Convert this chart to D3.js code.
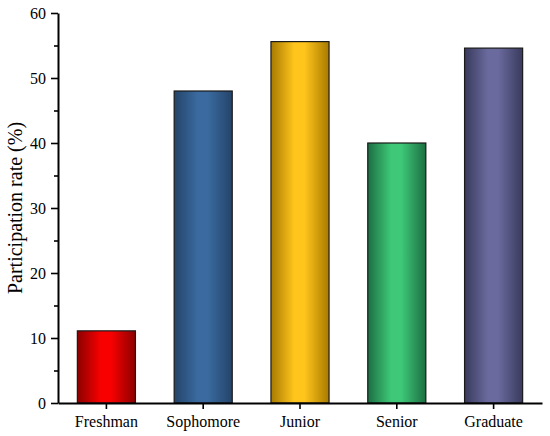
<!DOCTYPE html>
<html>
<head>
<meta charset="utf-8">
<script src="https://cdn.jsdelivr.net/npm/d3@7"></script>
<style>
  body { margin: 0; background: #fff; }
  text { font-family: "Liberation Serif", "Times New Roman", serif; fill: #000; }
</style>
</head>
<body>
<script>
'use strict';

var categories = ['Freshman', 'Sophomore', 'Junior', 'Senior', 'Graduate'];
var rates = [11.1, 48.0, 55.6, 40.0, 54.6];
var yTicks = [0, 10, 20, 30, 40, 50, 60];
var yMinorTicks = [5, 15, 25, 35, 45, 55];
// [edge, middle] colours of each bar's horizontal shading
var barColors = [
    ['#8c0000', '#f80000'],
    ['#244469', '#3a6a9f'],
    ['#a87a00', '#ffc51c'],
    ['#1c6e42', '#3ec878'],
    ['#393a5c', '#6a6a9e']
];

var width = 550;
var height = 436;
var margin = {left: 58, right: 8, top: 13, bottom: 33};

var svg = d3.select('body')
    .append('svg')
    .attr('width', width)
    .attr('height', height);

var x = d3.scaleBand()
    .domain(categories)
    .range([margin.left, width - margin.right])
    .paddingInner(0.4)
    .paddingOuter(0.2);

var y = d3.scaleLinear()
    .domain([0, 60])
    .range([height - margin.bottom, margin.top]);

var defs = svg.append('defs');
barColors.forEach(function(c, i) {
    var grad = defs.append('linearGradient')
        .attr('id', 'grad' + i)
        .attr('x1', '0%').attr('x2', '100%')
        .attr('y1', '0%').attr('y2', '0%');
    grad.append('stop').attr('offset', '0%').attr('stop-color', c[0]);
    grad.append('stop').attr('offset', '40%').attr('stop-color', c[1]);
    grad.append('stop').attr('offset', '58%').attr('stop-color', c[1]);
    grad.append('stop').attr('offset', '100%').attr('stop-color', c[0]);
});

svg.selectAll('rect.bar')
    .data(rates)
    .enter()
    .append('rect')
    .attr('class', 'bar')
    .attr('x', function(d, i) { return x(categories[i]); })
    .attr('y', function(d) { return y(d); })
    .attr('width', x.bandwidth())
    .attr('height', function(d) { return y(0) - y(d); })
    .attr('fill', function(d, i) { return 'url(#grad' + i + ')'; })
    .attr('stroke', '#1a1a1a')
    .attr('stroke-width', 1.2);

// y axis
svg.append('g')
    .attr('transform', 'translate(' + margin.left + ',0)')
    .call(d3.axisLeft(y).tickValues(yTicks).tickSize(7).tickPadding(5).tickSizeOuter(0));

svg.append('g')
    .attr('transform', 'translate(' + margin.left + ',0)')
    .call(d3.axisLeft(y).tickValues(yMinorTicks).tickSize(4).tickFormat('').tickSizeOuter(0))
    .select('.domain').remove();

// x axis
svg.append('g')
    .attr('transform', 'translate(0,' + y(0) + ')')
    .call(d3.axisBottom(x).tickSize(6).tickPadding(7).tickSizeOuter(0));

svg.selectAll('.domain').attr('stroke', '#000').attr('stroke-width', 2);
svg.selectAll('.tick line').attr('stroke', '#000').attr('stroke-width', 1.6);
svg.selectAll('.tick text')
    .style('font-family', '"Liberation Serif", "Times New Roman", serif')
    .style('font-size', '16px')
    .attr('fill', '#000');

svg.append('text')
    .attr('transform', 'translate(22,' + ((margin.top + height - margin.bottom) / 2) + ') rotate(-90)')
    .attr('text-anchor', 'middle')
    .style('font-size', '20px')
    .text('Participation rate (%)');
</script>
</body>
</html>
